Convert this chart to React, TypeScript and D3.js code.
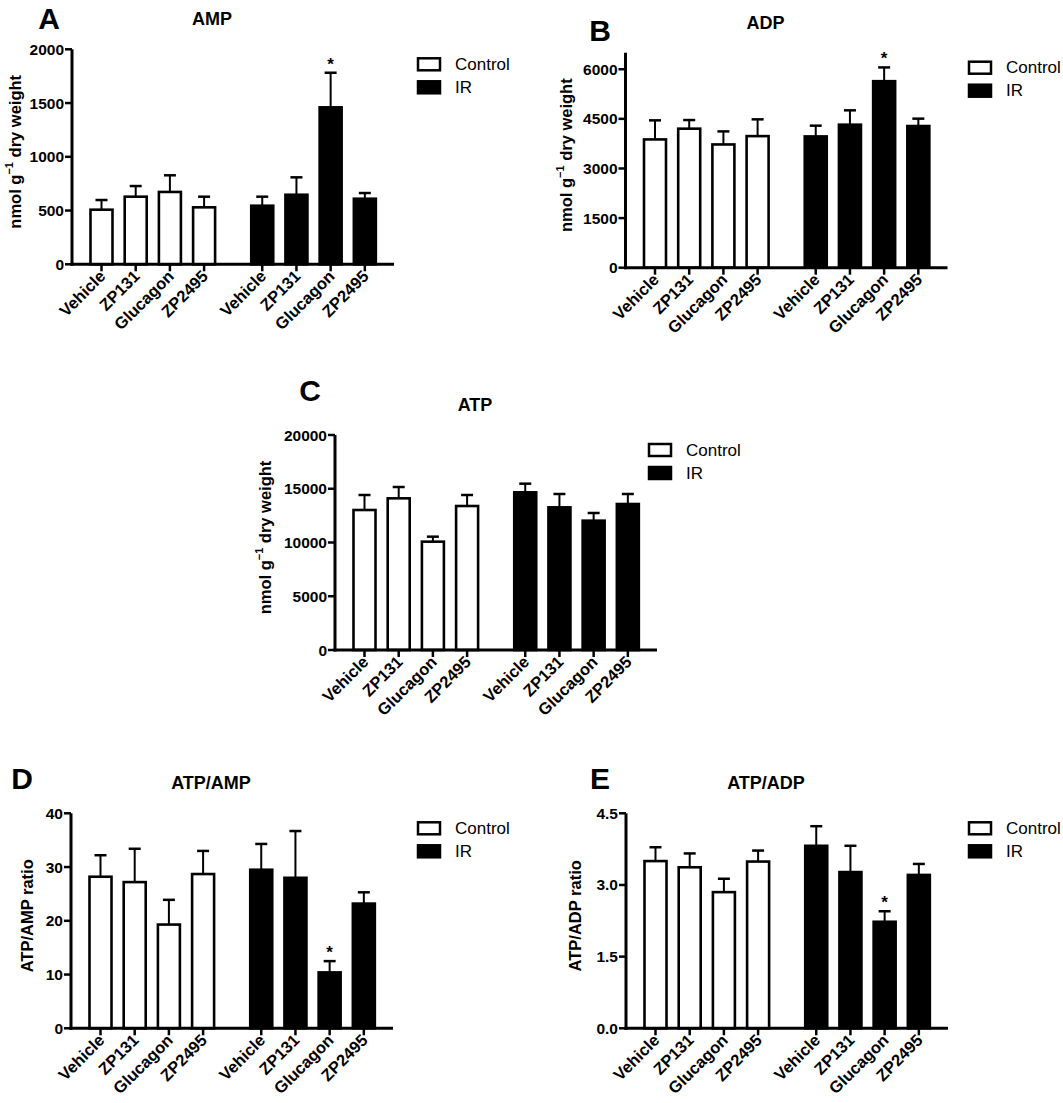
import React from 'react';
import * as d3 from 'd3';

const groups = ['Control', 'IR'];
const treatments = ['Vehicle', 'ZP131', 'Glucagon', 'ZP2495'];

// means then SEM, order: Control x4, IR x4
const ampMean = [508, 629, 673, 530, 545, 647, 1460, 610];
const ampSem = [90, 99, 155, 99, 84, 162, 322, 53];
const adpMean = [3878, 4203, 3726, 3978, 3969, 4324, 5639, 4283];
const adpSem = [577, 261, 395, 507, 325, 434, 416, 223];
const atpMean = [13023, 14109, 10078, 13395, 14667, 13271, 12031, 13581];
const atpSem = [1396, 1054, 465, 1024, 806, 1241, 713, 931];
const atpAmpMean = [28.2, 27.2, 19.3, 28.7, 29.5, 28.0, 10.4, 23.2];
const atpAmpSem = [4.0, 6.2, 4.6, 4.3, 4.8, 8.7, 2.1, 2.1];
const atpAdpMean = [3.5, 3.37, 2.85, 3.49, 3.82, 3.27, 2.23, 3.21];
const atpAdpSem = [0.29, 0.29, 0.28, 0.23, 0.41, 0.55, 0.22, 0.23];
const starIR = [6]; // IR Glucagon, significant
const noStar: number[] = [];

const ampTicks = [0, 500, 1000, 1500, 2000];
const adpTicks = [0, 1500, 3000, 4500, 6000];
const atpTicks = [0, 5000, 10000, 15000, 20000];
const atpAmpTicks = [0, 10, 20, 30, 40];
const atpAdpTicks = [0, 1.5, 3.0, 4.5];

const FONT = "'Liberation Sans', Arial, Helvetica, sans-serif";

type PanelProps = {
  letter: string;
  title: string;
  mean: number[];
  sem: number[];
  stars: number[];
  ticks: number[];
  yMax: number;
  fmt: (v: number) => string;
  ox: number;
  oy: number;
  letterX: number;
  letterY: number;
  labelX: number;
  legendX: number;
  yLabel: React.ReactNode;
};

function Panel(p: PanelProps) {
  const H = 215;
  const y = d3.scaleLinear().domain([0, p.yMax]).range([p.oy, p.oy - H]);
  // slot index: treatment + group offset
  const x = d3.scaleLinear().domain([0, 1]).range([p.ox + 29.5, p.ox + 63.7]);
  const bars = groups.flatMap((g, gi) =>
    treatments.map((t, ti) => ({ g, t, gi, i: gi * 4 + ti, slot: gi * 4.7 + ti }))
  );
  const bw = 22;
  const top = y(p.yMax);
  return (
    <g fontFamily={FONT}>
      <text x={p.letterX} y={p.letterY} fontSize={30} fontWeight="bold" textAnchor="middle" dominantBaseline="central">
        {p.letter}
      </text>
      <text x={p.ox + 140} y={p.oy - 245} fontSize={18} fontWeight="bold" textAnchor="middle" dominantBaseline="central">
        {p.title}
      </text>
      {bars.map((b) => {
        const cx = x(b.slot);
        const m = p.mean[b.i];
        const e = m + p.sem[b.i];
        return (
          <g key={b.i}>
            <line x1={cx} x2={cx} y1={y(m)} y2={y(e)} stroke="#000" strokeWidth={2} />
            <line x1={cx - 6} x2={cx + 6} y1={y(e)} y2={y(e)} stroke="#000" strokeWidth={2.5} />
            <rect
              x={cx - bw / 2}
              y={y(m)}
              width={bw}
              height={p.oy - y(m)}
              fill={b.gi === 0 ? '#fff' : '#000'}
              stroke="#000"
              strokeWidth={2.6}
            />
            {p.stars.includes(b.i) && (
              <text x={cx} y={y(e) - 3} fontSize={17} fontWeight="bold" textAnchor="middle">
                *
              </text>
            )}
            <line x1={cx} x2={cx} y1={p.oy} y2={p.oy + 7} stroke="#000" strokeWidth={2.5} />
            <text
              transform={`translate(${cx + 5},${p.oy + 13}) rotate(-45)`}
              fontSize={16.5}
              fontWeight="bold"
              textAnchor="end"
            >
              {b.t}
            </text>
          </g>
        );
      })}
      {/* axes */}
      <line x1={p.ox} x2={p.ox} y1={top} y2={p.oy + 1.5} stroke="#000" strokeWidth={3} />
      <line x1={p.ox - 1.5} x2={p.ox + 322} y1={p.oy} y2={p.oy} stroke="#000" strokeWidth={3} />
      {p.ticks.map((t) => (
        <g key={t}>
          <line x1={p.ox - 7} x2={p.ox} y1={y(t)} y2={y(t)} stroke="#000" strokeWidth={2.5} />
          <text x={p.ox - 8} y={y(t)} fontSize={15.5} fontWeight="bold" textAnchor="end" dominantBaseline="central">
            {p.fmt(t)}
          </text>
        </g>
      ))}
      <text
        transform={`translate(${p.labelX},${p.oy - H / 2 - 5}) rotate(-90)`}
        fontSize={16.5}
        fontWeight="bold"
        textAnchor="middle"
        dominantBaseline="central"
      >
        {p.yLabel}
      </text>
      {/* legend */}
      {groups.map((g, gi) => (
        <g key={g}>
          <rect
            x={p.legendX}
            y={p.oy - 200 + gi * 23 - 6}
            width={22}
            height={12}
            fill={gi === 0 ? '#fff' : '#000'}
            stroke="#000"
            strokeWidth={2.5}
          />
          <text x={p.legendX + 37} y={p.oy - 200 + gi * 23} fontSize={17} dominantBaseline="central">
            {g}
          </text>
        </g>
      ))}
    </g>
  );
}

const nmol = (
  <>
    nmol g
    <tspan fontSize={11} dy={-6}>
      −1
    </tspan>
    <tspan dy={6}> dry weight</tspan>
  </>
);

const intFmt = d3.format('d');
const oneFmt = d3.format('.1f');

export default function App() {
  return (
    <svg width={1063} height={1103} style={{ position: 'absolute', left: 0, top: 0, background: '#fff' }}>
      <Panel letter="A" title="AMP" mean={ampMean} sem={ampSem} stars={starIR} ticks={ampTicks} yMax={2000} fmt={intFmt}
        ox={72} oy={264.3} letterX={49} letterY={18} labelX={15} legendX={418} yLabel={nmol} />
      <Panel letter="B" title="ADP" mean={adpMean} sem={adpSem} stars={starIR} ticks={adpTicks} yMax={6500} fmt={intFmt}
        ox={625.5} oy={267.7} letterX={600} letterY={30} labelX={566} legendX={969} yLabel={nmol} />
      <Panel letter="C" title="ATP" mean={atpMean} sem={atpSem} stars={noStar} ticks={atpTicks} yMax={20000} fmt={intFmt}
        ox={335} oy={650} letterX={310} letterY={390} labelX={265} legendX={649} yLabel={nmol} />
      <Panel letter="D" title="ATP/AMP" mean={atpAmpMean} sem={atpAmpSem} stars={starIR} ticks={atpAmpTicks} yMax={40} fmt={intFmt}
        ox={71} oy={1028.3} letterX={22} letterY={778} labelX={27} legendX={418} yLabel="ATP/AMP ratio" />
      <Panel letter="E" title="ATP/ADP" mean={atpAdpMean} sem={atpAdpSem} stars={starIR} ticks={atpAdpTicks} yMax={4.5} fmt={oneFmt}
        ox={626} oy={1028.3} letterX={600} letterY={778} labelX={575} legendX={969} yLabel="ATP/ADP ratio" />
    </svg>
  );
}
